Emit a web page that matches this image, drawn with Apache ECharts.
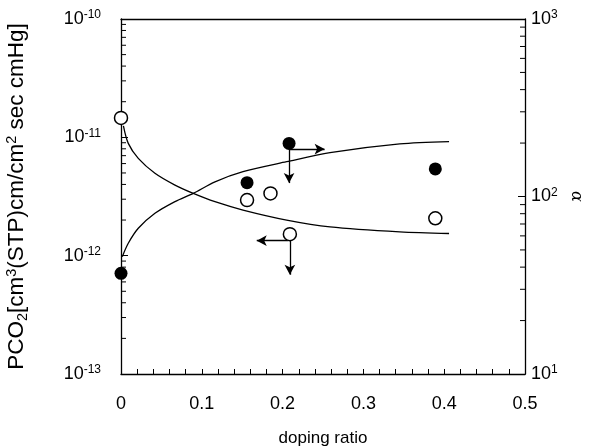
<!DOCTYPE html>
<html><head><meta charset="utf-8">
<script src="https://cdn.jsdelivr.net/npm/echarts@6/dist/echarts.min.js"></script>
<style>html,body{margin:0;padding:0;background:#fff}#c{width:599px;height:447px}</style>
</head><body><div id="c"></div>
<script>
// Permeability (open circles, left axis) measured points
const permX = [0, 0.156, 0.185, 0.209, 0.389];
const permY = [1.46e-11, 2.95e-12, 3.36e-12, 1.52e-12, 2.07e-12];
// Separation factor alpha (filled circles, right axis)
const alphaX = [0, 0.156, 0.208, 0.389];
const alphaY = [36.9, 119.7, 199, 143];
// Model curve for permeability (left axis)
const permCurveX = [0.003, 0.009, 0.0214, 0.042, 0.0668, 0.0895, 0.1163, 0.151, 0.205, 0.2587, 0.345, 0.406];
const permCurveY = [1.25e-11, 8.89e-12, 6.64e-12, 4.97e-12, 3.95e-12, 3.36e-12, 2.86e-12, 2.43e-12, 2.0e-12, 1.75e-12, 1.59e-12, 1.54e-12];
// Model curve for alpha (right axis)
const alphaCurveX = [0.0016, 0.009, 0.0214, 0.042, 0.0668, 0.0895, 0.1163, 0.151, 0.205, 0.2587, 0.345, 0.406];
const alphaCurveY = [45.8, 54.5, 66.2, 80.4, 93.6, 104.2, 121, 138, 157, 176.6, 197.7, 203.7];
// Arrows marking which axis a point belongs to: [fromX, fromY, toX, toY]
const alphaArrows = [[0.208, 185, 0.252, 185], [0.208, 199, 0.208, 119]];
const permArrows = [[0.207, 1.34e-12, 0.168, 1.34e-12], [0.209, 1.52e-12, 0.209, 6.9e-13]];
// Tick labels
const xTicks = [0, 0.1, 0.2, 0.3, 0.4, 0.5];
const leftMinorTicks = [];
[-13, -12, -11].forEach(e => { for (let m = 2; m <= 9; m++) leftMinorTicks.push(m * Math.pow(10, e)); });
const rightMinorTicks = [];
[1, 2].forEach(e => { for (let m = 2; m <= 9; m++) rightMinorTicks.push(m * Math.pow(10, e)); });

const FONT = 'Liberation Sans';
const zip = (a, b) => a.map((v, i) => [v, b[i]]);
const expFmt = v => '{b|10}{s|' + Math.round(Math.log10(v)) + '}';
const expRich = {
  b: { fontFamily: FONT, fontSize: 18, color: '#000', lineHeight: 20 },
  s: { fontFamily: FONT, fontSize: 12, color: '#000', verticalAlign: 'top', lineHeight: 20, padding: [0, 0, 6, 0] }
};
const arrowLines = arr => arr.map(a => [{ coord: [a[0], a[1]] }, { coord: [a[2], a[3]] }]);

function minorTickSeries(vals, yIdx, xPos, dir) {
  return {
    type: 'custom', yAxisIndex: yIdx, silent: true, z: 5,
    data: vals.map(v => [xPos, v]),
    renderItem: (params, api) => {
      const p = api.coord([api.value(0), api.value(1)]);
      return { type: 'line', shape: { x1: p[0], y1: p[1], x2: p[0] + dir * 5, y2: p[1] },
               style: { stroke: '#000', lineWidth: 1 } };
    }
  };
}

const chart = echarts.init(document.getElementById('c'));
chart.setOption({
  backgroundColor: '#fff',
  animation: false,
  grid: { left: 121, right: 74, top: 19, bottom: 73, containLabel: false, outerBoundsMode: 'none' },
  xAxis: [{
    type: 'value', min: 0, max: 0.5, interval: 0.1,
    name: 'doping ratio', nameLocation: 'middle', nameGap: 56,
    nameTextStyle: { fontFamily: FONT, fontSize: 17, color: '#000' },
    axisLine: { onZero: false, lineStyle: { color: '#000', width: 1.3 } },
    axisTick: { show: true, inside: true, length: 5, lineStyle: { color: '#000', width: 1 } },
    minorTick: { show: true, splitNumber: 5, length: 5, lineStyle: { color: '#000', width: 1 } },
    splitLine: { show: false },
    axisLabel: { fontFamily: FONT, fontSize: 18, color: '#000', margin: 21,
      formatter: v => (v === 0 ? '0' : v.toFixed(1)) }
  }, {
    type: 'value', min: 0, max: 0.5, position: 'top',
    axisLine: { onZero: false, lineStyle: { color: '#000', width: 1.3 } },
    axisTick: { show: false }, axisLabel: { show: false }, splitLine: { show: false }
  }],
  yAxis: [{
    type: 'log', logBase: 10, min: 1e-13, max: 1e-10,
    name: '{t|PCO}{sb|2}{t|[cm}{sp|3}{t|(STP)cm/cm}{sp|2}{t| sec cmHg]}',
    nameLocation: 'middle', nameGap: 91, nameRotate: 90,
    nameTextStyle: { rich: {
      t: { fontFamily: FONT, fontSize: 22.5, color: '#000', lineHeight: 26 },
      sb: { fontFamily: FONT, fontSize: 14.5, color: '#000', verticalAlign: 'bottom', lineHeight: 26, padding: [6, 0, 0, 0] },
      sp: { fontFamily: FONT, fontSize: 14.5, color: '#000', verticalAlign: 'top', lineHeight: 26, padding: [0, 0, 6, 0] }
    } },
    axisLine: { show: true, onZero: false, lineStyle: { color: '#000', width: 1.3 } },
    axisTick: { inside: true, length: 7, lineStyle: { color: '#000' } },
    splitLine: { show: false },
    axisLabel: { margin: 20, formatter: expFmt, rich: expRich }
  }, {
    type: 'log', logBase: 10, min: 10, max: 1000, position: 'right',
    name: 'α', nameLocation: 'middle', nameGap: 33, nameRotate: -90,
    nameTextStyle: { fontFamily: 'DejaVu Serif', fontSize: 16, color: '#000', fontStyle: 'italic' },
    axisLine: { show: true, onZero: false, lineStyle: { color: '#000', width: 1.3 } },
    axisTick: { inside: true, length: 7, lineStyle: { color: '#000' } },
    splitLine: { show: false },
    axisLabel: { margin: 6, formatter: expFmt, rich: expRich }
  }],
  series: [
    minorTickSeries(leftMinorTicks, 0, 0, 1),
    minorTickSeries(rightMinorTicks, 1, 0.5, -1),
    { type: 'line', yAxisIndex: 0, data: zip(permCurveX, permCurveY), smooth: 0.3, symbol: 'none',
      lineStyle: { color: '#000', width: 1.3 }, z: 2 },
    { type: 'line', yAxisIndex: 1, data: zip(alphaCurveX, alphaCurveY), smooth: 0.3, symbol: 'none',
      lineStyle: { color: '#000', width: 1.3 }, z: 2 },
    { type: 'scatter', yAxisIndex: 1, data: [], z: 1,
      markLine: { silent: true, symbol: ['none', 'arrow'], symbolSize: [8, 10], label: { show: false },
        lineStyle: { color: '#000', width: 1.3, type: 'solid' }, data: arrowLines(alphaArrows) } },
    { type: 'scatter', yAxisIndex: 0, data: [], z: 1,
      markLine: { silent: true, symbol: ['none', 'arrow'], symbolSize: [8, 10], label: { show: false },
        lineStyle: { color: '#000', width: 1.3, type: 'solid' }, data: arrowLines(permArrows) } },
    { type: 'scatter', yAxisIndex: 0, data: zip(permX, permY), symbol: 'circle', symbolSize: 13, z: 10,
      itemStyle: { color: '#fff', borderColor: '#000', borderWidth: 1.5, opacity: 1 } },
    { type: 'scatter', yAxisIndex: 1, data: zip(alphaX, alphaY), symbol: 'circle', symbolSize: 13, z: 10,
      itemStyle: { color: '#000', opacity: 1 } }
  ]
});
</script></body></html>
